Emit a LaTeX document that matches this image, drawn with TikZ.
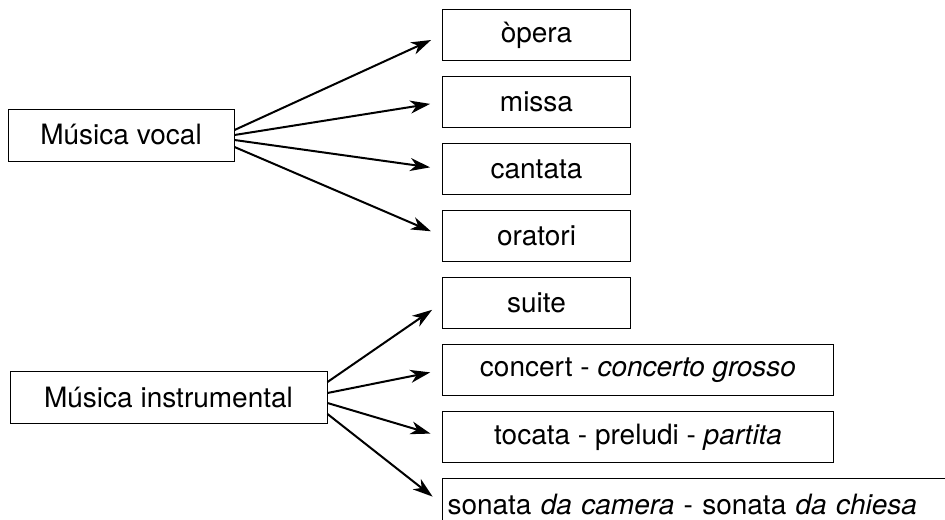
\documentclass[tikz,border=0pt]{standalone}
\usepackage{fontspec}
\setmainfont{TeX Gyre Heros}
\usetikzlibrary{positioning,arrows.meta}

\begin{document}
\begin{tikzpicture}[x=0.5pt, y=-0.5pt,
				node distance=7.5pt,
				genre/.style={rectangle, draw=black, line width=0.5pt, minimum height=26pt, inner sep=0pt, font=\fontsize{14}{16}\selectfont},
				form/.style={genre, minimum width=94pt, minimum height=25.5pt},
				wideform/.style={form, minimum width=195.5pt}
			]
			\useasboundingbox (0,0) rectangle (945,519);
			\node[genre, minimum width=113pt] (vocal) at (121,135) {Música vocal};
			\node[genre, minimum width=158.5pt] (instr) at (168.5,397) {Música instrumental};
			\node[form, anchor=north west] (opera) at (442,9) {òpera};
			\node[form, below=of opera.south west, anchor=north west] (missa) {missa};
			\node[form, below=of missa.south west, anchor=north west] (cantata) {cantata};
			\node[form, below=of cantata.south west, anchor=north west] (oratori) {oratori};
			\node[form, below=of oratori.south west, anchor=north west] (suite) {suite};
			\node[wideform, below=of suite.south west, anchor=north west] (concert) {concert - \textit{concerto grosso}};
			\node[wideform, below=of concert.south west, anchor=north west] (tocata) {tocata - preludi - \textit{partita}};
			\node[form, text width=250pt, inner xsep=2.5pt, align=left, below=of tocata.south west, anchor=north west] (sonata) {sonata \textit{da camera} - sonata \textit{da chiesa}};
			\begin{scope}[line width=1pt, -{Stealth[length=10pt, width=6.5pt, inset=3pt]}, shorten >=6pt]
			\draw ([yshift=2.5pt]vocal.east) -- (opera.west);
			\draw (vocal.east) -- (missa.west);
			\draw ([yshift=-2.5pt]vocal.east) -- (cantata.west);
			\draw ([yshift=-6pt]vocal.east) -- (oratori.west);
			\draw ([yshift=7.5pt]instr.east) -- (suite.west);
			\draw ([yshift=2pt]instr.east) -- (concert.west);
			\draw ([yshift=-3pt]instr.east) -- (tocata.west);
			\draw ([yshift=-8.5pt]instr.east) -- (sonata.west);
			\end{scope}
			\end{tikzpicture}
\end{document}
